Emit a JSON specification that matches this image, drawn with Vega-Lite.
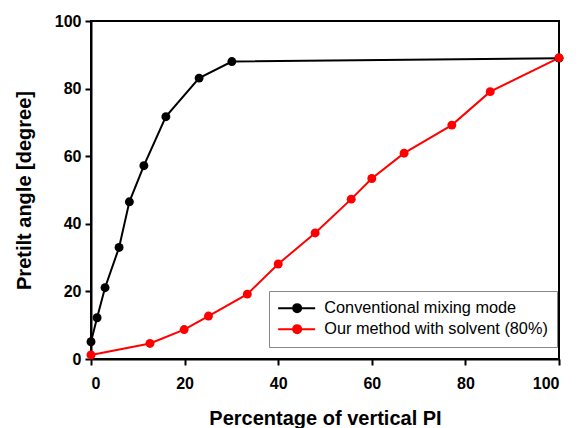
{
  "$schema": "https://vega.github.io/schema/vega-lite/v6.json",
  "width": 468,
  "height": 338,
  "autosize": {"type": "none"},
  "padding": {"left": 91, "top": 21, "right": 19, "bottom": 69},
  "background": "white",
  "config": {
    "font": "Liberation Sans",
    "view": {"stroke": "black", "strokeWidth": 2},
    "axis": {
      "domainColor": "black", "domainWidth": 2,
      "tickColor": "black", "tickWidth": 2, "tickSize": 6,
      "labelFont": "Liberation Sans", "labelFontSize": 16, "labelFontWeight": "bold", "labelColor": "black",
      "titleFont": "Liberation Sans", "titleFontSize": 20, "titleFontWeight": "bold", "titleColor": "black",
      "grid": false
    }
  },
  "data": {
    "values": [
      {"series": "Conventional mixing mode", "x": 0, "y": 5.1},
      {"series": "Conventional mixing mode", "x": 1.3, "y": 12.2},
      {"series": "Conventional mixing mode", "x": 3.0, "y": 21.1},
      {"series": "Conventional mixing mode", "x": 6.0, "y": 33.0},
      {"series": "Conventional mixing mode", "x": 8.2, "y": 46.5},
      {"series": "Conventional mixing mode", "x": 11.3, "y": 57.2},
      {"series": "Conventional mixing mode", "x": 16.0, "y": 71.7},
      {"series": "Conventional mixing mode", "x": 23.1, "y": 83.1},
      {"series": "Conventional mixing mode", "x": 30.1, "y": 88.0},
      {"series": "Conventional mixing mode", "x": 100, "y": 89.0},
      {"series": "Our method with solvent (80%)", "x": 0, "y": 1.2},
      {"series": "Our method with solvent (80%)", "x": 12.6, "y": 4.6},
      {"series": "Our method with solvent (80%)", "x": 19.9, "y": 8.7},
      {"series": "Our method with solvent (80%)", "x": 25.1, "y": 12.7},
      {"series": "Our method with solvent (80%)", "x": 33.4, "y": 19.2},
      {"series": "Our method with solvent (80%)", "x": 40.0, "y": 28.1},
      {"series": "Our method with solvent (80%)", "x": 47.9, "y": 37.3},
      {"series": "Our method with solvent (80%)", "x": 55.6, "y": 47.3},
      {"series": "Our method with solvent (80%)", "x": 60.0, "y": 53.4},
      {"series": "Our method with solvent (80%)", "x": 66.9, "y": 60.9},
      {"series": "Our method with solvent (80%)", "x": 77.1, "y": 69.2},
      {"series": "Our method with solvent (80%)", "x": 85.3, "y": 79.1},
      {"series": "Our method with solvent (80%)", "x": 100, "y": 89.1}
    ]
  },
  "encoding": {
    "x": {"field": "x", "type": "quantitative", "scale": {"domain": [0, 100], "nice": false}, "axis": {"values": [0, 20, 40, 60, 80, 100], "title": "Percentage of vertical PI", "labelPadding": 10, "titlePadding": 17}},
    "y": {"field": "y", "type": "quantitative", "scale": {"domain": [0, 100], "nice": false}, "axis": {"values": [0, 20, 40, 60, 80, 100], "title": "Pretilt angle [degree]", "labelPadding": 4, "titlePadding": 20}},
    "color": {
      "field": "series", "type": "nominal",
      "scale": {"domain": ["Conventional mixing mode", "Our method with solvent (80%)"], "range": ["#000000", "#ff0000"]}
    }
  },
  "layer": [
    {
      "mark": {"type": "line", "strokeWidth": 2},
      "encoding": {
        "color": {
          "field": "series", "type": "nominal",
          "scale": {"domain": ["Conventional mixing mode", "Our method with solvent (80%)"], "range": ["#000000", "#ff0000"]},
          "legend": {
            "title": null, "orient": "none", "legendX": 178, "legendY": 270,
            "direction": "vertical",
            "strokeColor": "#888888", "fillColor": "white", "padding": 9,
            "symbolType": "M-2,0H7.25M3.75,0A1,1,0,1,1,1.75,0A1,1,0,1,1,3.75,0Z",
            "symbolSize": 64, "symbolStrokeWidth": 2,
            "labelFontSize": 16.3, "labelFont": "Liberation Sans", "labelColor": "black", "labelLimit": 300,
            "rowPadding": 4, "labelOffset": 30
          }
        }
      }
    },
    {
      "mark": {"type": "point", "filled": true, "size": 80, "opacity": 1},
      "encoding": {
        "color": {"field": "series", "type": "nominal", "legend": null}
      }
    }
  ]
}
